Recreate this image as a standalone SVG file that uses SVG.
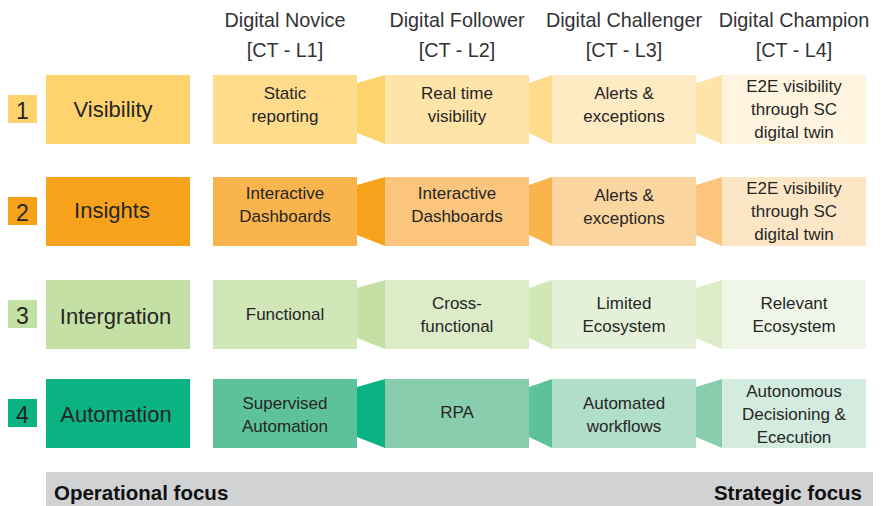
<svg xmlns="http://www.w3.org/2000/svg" width="882" height="506" viewBox="0 0 882 506">
<style>
text{font-family:"Liberation Sans",Arial,sans-serif;fill:#262626}
.hd{font-size:19.8px;text-anchor:middle;fill:#333}
.lb{font-size:22px;text-anchor:middle}
.num{font-size:23px;text-anchor:middle}
.bx{font-size:17px;text-anchor:middle}
.ft{font-size:20.5px;font-weight:bold;fill:#111}
</style>
<rect width="882" height="506" fill="#fff"/>
<g id="headers">
<text class="hd" x="285" y="27">Digital Novice</text>
<text class="hd" x="285" y="57">[CT - L1]</text>
<text class="hd" x="457" y="27">Digital Follower</text>
<text class="hd" x="457" y="57">[CT - L2]</text>
<text class="hd" x="624" y="27">Digital Challenger</text>
<text class="hd" x="624" y="57">[CT - L3]</text>
<text class="hd" x="794" y="27">Digital Champion</text>
<text class="hd" x="794" y="57">[CT - L4]</text>
</g>
<g id="connectors">
<polygon points="357,83 385,75 385,144 357,133" fill="#FDD36E"/>
<polygon points="529,83 552,75 552,144 529,133" fill="#FEDC8C"/>
<polygon points="696,83 722,75 722,144 696,133" fill="#FEE4A8"/>
<polygon points="357,185 385,177 385,246 357,235" fill="#F7A21B"/>
<polygon points="529,185 552,177 552,246 529,235" fill="#F9B44E"/>
<polygon points="696,185 722,177 722,246 696,235" fill="#FBC57D"/>
<polygon points="357,288 385,280 385,349 357,338" fill="#C5E0A5"/>
<polygon points="529,288 552,280 552,349 529,338" fill="#D2E7B8"/>
<polygon points="696,288 722,280 722,349 696,338" fill="#DCECC9"/>
<polygon points="357,387 385,379 385,448 357,437" fill="#0BB383"/>
<polygon points="529,387 552,379 552,448 529,437" fill="#5DC299"/>
<polygon points="696,387 722,379 722,448 696,437" fill="#88CDAD"/>
</g>
<g id="row1">
<rect x="8" y="95" width="29" height="28" fill="#FDD36E"/>
<text class="num" x="22.5" y="119">1</text>
<rect x="46" y="75" width="144" height="69" fill="#FDD36E"/>
<text class="lb" x="113" y="117">Visibility</text>
</g>
<g id="r1c1"><rect x="213" y="75" width="144" height="69" fill="#FEDC8C"/><text class="bx" x="285" y="99">Static</text><text class="bx" x="285" y="122">reporting</text></g>
<g id="r1c2"><rect x="385" y="75" width="144" height="69" fill="#FEE4A8"/><text class="bx" x="457" y="99">Real time</text><text class="bx" x="457" y="122">visibility</text></g>
<g id="r1c3"><rect x="552" y="75" width="144" height="69" fill="#FEEBC4"/><text class="bx" x="624" y="99">Alerts &amp;</text><text class="bx" x="624" y="122">exceptions</text></g>
<g id="r1c4"><rect x="722" y="75" width="144" height="69" fill="#FFF4E0"/><text class="bx" x="794" y="92">E2E visibility</text><text class="bx" x="794" y="115">through SC</text><text class="bx" x="794" y="138">digital twin</text></g>
<g id="row2">
<rect x="8" y="197" width="29" height="28" fill="#F7A21B"/>
<text class="num" x="22.5" y="221">2</text>
<rect x="46" y="177" width="144" height="69" fill="#F7A21B"/>
<text class="lb" x="112" y="218">Insights</text>
</g>
<g id="r2c1"><rect x="213" y="177" width="144" height="69" fill="#F9B44E"/><text class="bx" x="285" y="199">Interactive</text><text class="bx" x="285" y="222">Dashboards</text></g>
<g id="r2c2"><rect x="385" y="177" width="144" height="69" fill="#FBC57D"/><text class="bx" x="457" y="199">Interactive</text><text class="bx" x="457" y="222">Dashboards</text></g>
<g id="r2c3"><rect x="552" y="177" width="144" height="69" fill="#FCD6A0"/><text class="bx" x="624" y="201">Alerts &amp;</text><text class="bx" x="624" y="224">exceptions</text></g>
<g id="r2c4"><rect x="722" y="177" width="144" height="69" fill="#FDE6C6"/><text class="bx" x="794" y="194">E2E visibility</text><text class="bx" x="794" y="217">through SC</text><text class="bx" x="794" y="240">digital twin</text></g>
<g id="row3">
<rect x="8" y="300" width="29" height="28" fill="#C5E0A5"/>
<text class="num" x="22.5" y="324">3</text>
<rect x="46" y="280" width="144" height="69" fill="#C5E0A5"/>
<text class="lb" x="115.5" y="324">Intergration</text>
</g>
<g id="r3c1"><rect x="213" y="280" width="144" height="69" fill="#D2E7B8"/><text class="bx" x="285" y="320">Functional</text></g>
<g id="r3c2"><rect x="385" y="280" width="144" height="69" fill="#DCECC9"/><text class="bx" x="457" y="309">Cross-</text><text class="bx" x="457" y="332">functional</text></g>
<g id="r3c3"><rect x="552" y="280" width="144" height="69" fill="#E4F1D8"/><text class="bx" x="624" y="309">Limited</text><text class="bx" x="624" y="332">Ecosystem</text></g>
<g id="r3c4"><rect x="722" y="280" width="144" height="69" fill="#EFF6E8"/><text class="bx" x="794" y="309">Relevant</text><text class="bx" x="794" y="332">Ecosystem</text></g>
<g id="row4">
<rect x="8" y="399" width="29" height="28" fill="#0BB383"/>
<text class="num" x="22.5" y="423">4</text>
<rect x="46" y="379" width="144" height="69" fill="#0BB383"/>
<text class="lb" x="116" y="422">Automation</text>
</g>
<g id="r4c1"><rect x="213" y="379" width="144" height="69" fill="#5DC299"/><text class="bx" x="285" y="409">Supervised</text><text class="bx" x="285" y="432">Automation</text></g>
<g id="r4c2"><rect x="385" y="379" width="144" height="69" fill="#88CDAD"/><text class="bx" x="457" y="418">RPA</text></g>
<g id="r4c3"><rect x="552" y="379" width="144" height="69" fill="#B1DEC8"/><text class="bx" x="624" y="409">Automated</text><text class="bx" x="624" y="432">workflows</text></g>
<g id="r4c4"><rect x="722" y="379" width="144" height="69" fill="#D3ECDF"/><text class="bx" x="794" y="397">Autonomous</text><text class="bx" x="794" y="420">Decisioning &amp;</text><text class="bx" x="794" y="443">Ececution</text></g>
<g id="focusbar">
<rect x="46" y="472" width="827" height="34" fill="#D1D2D4"/>
<text class="ft" x="54" y="500">Operational focus</text>
<text class="ft" x="862" y="500" text-anchor="end">Strategic focus</text>
</g>
</svg>
